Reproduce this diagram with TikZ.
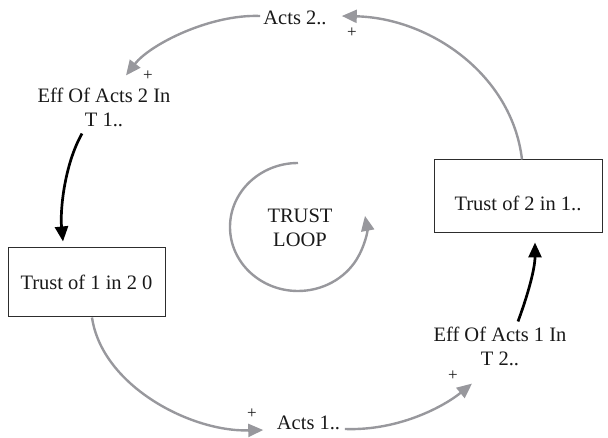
\documentclass[tikz,border=0pt]{standalone}
\usepackage{fontspec}
\setmainfont{Liberation Serif}
\usetikzlibrary{arrows.meta}
\definecolor{lk}{RGB}{152,152,157}
\definecolor{bx}{RGB}{45,45,45}
\definecolor{tx}{RGB}{25,25,25}
\begin{document}
\begin{tikzpicture}[x=1pt,y=-1pt,
  lbl/.style={font=\fontsize{20.5}{24}\selectfont, text=tx, inner sep=2pt, align=center},
  boxn/.style={lbl, draw=bx, line width=1pt},
  garrow/.style={draw=lk, line width=2.4pt, -{Triangle[length=15pt,width=13pt]}},
  barrow/.style={draw=black, line width=2.7pt, -{Triangle[length=15pt,width=13pt]}},
  sign/.style={font=\fontsize{17}{17}\selectfont, text=tx, inner sep=0pt}]
\useasboundingbox (0,0) rectangle (608,438);

% nodes
\node[lbl] (acts2) at (295,18) {Acts 2..};
\node[lbl] (eff2) at (104,107) {Eff Of Acts 2 In\\T 1..};
\node[boxn, minimum width=157, minimum height=69] (box1) at (86.5,282.5) {Trust of 1 in 2 0};
\node[boxn, minimum width=168, minimum height=73, text height=28pt, text depth=0pt] (box2) at (518,196.5) {Trust of 2 in 1..};
\node[lbl] (acts1) at (308.5,423) {Acts 1..};
\node[lbl] (eff1) at (500,346) {Eff Of Acts 1 In\\T 2..};
\node[lbl] (loop) at (300,228) {TRUST\\LOOP};

% polarity signs
\node[sign] (p1) at (352,33) {+};
\node[sign] (p2) at (148,76) {+};
\node[sign] (p3) at (252,414) {+};
\node[sign] (p4) at (453,376) {+};

% connectors
\draw[garrow] ([shift={(4,0)}]box2.north) .. controls +(-10,-85) and +(88,2) .. ([shift={(13,-2)}]acts2.east);
\draw[garrow] ([shift={(-1,-2)}]acts2.west) .. controls +(-50,-2) and +(24,-31) .. ([shift={(22,-10)}]eff2.north);
\draw[barrow] ([shift={(-22,5)}]eff2.south) .. controls +(-18,32) and +(-3,-30) .. ([shift={(-23.5,-6)}]box1.north);
\draw[garrow] ([shift={(5.5,0)}]box1.south) .. controls +(10,68) and +(-73,2) .. ([shift={(-11.5,7)}]acts1.west);
\draw[garrow] ([shift={(2.5,6)}]acts1.east) .. controls +(55,2) and +(-27,22) .. ([shift={(-28,16)}]eff1.south);
\draw[barrow] ([shift={(18,-3)}]eff1.north) .. controls +(10,-27) and +(0,26) .. ([shift={(17,9)}]box2.south);

% loop symbol
\draw[garrow] ([shift={(-2,-65)}]loop.center) arc[start angle=-90, end angle=-370, x radius=68, y radius=64];
\end{tikzpicture}
\end{document}
